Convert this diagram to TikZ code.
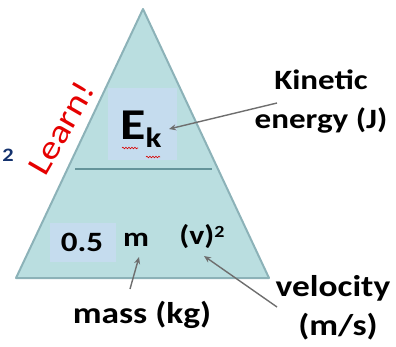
\documentclass[tikz,border=0pt]{standalone}
\usepackage{fontspec}
\setmainfont{Carlito}
\newfontfamily\calfnt[FakeStretch=1.18]{Carlito}
\usetikzlibrary{arrows.meta,decorations.pathmorphing}
\definecolor{tri}{RGB}{186,222,224}
\definecolor{triedge}{RGB}{140,178,184}
\definecolor{divline}{RGB}{100,148,154}
\definecolor{hbox}{RGB}{197,220,238}
\definecolor{arr}{RGB}{110,110,110}
\definecolor{nav}{RGB}{20,50,110}
\tikzset{
  lbl/.style={inner sep=0pt, align=center},
  ptr/.style={draw=arr, line width=1.4pt, -{Stealth[length=7pt,width=6pt]}},
  squig/.style={draw=red!85!black, line width=0.6pt, decorate, decoration={snake, amplitude=0.8pt, segment length=3pt}}
}
\begin{document}
\begin{tikzpicture}[x=1pt,y=-1pt]
\useasboundingbox (0,0) rectangle (396,346);
% triangle
\coordinate (apex) at (143,9);
\coordinate (bl) at (16,278);
\coordinate (br) at (269,278);
\fill[tri] (apex) -- (br) -- (bl) -- cycle;
% highlight boxes
\fill[hbox] (108,88) rectangle (177,160);
\fill[hbox] (50,223) rectangle (116,262);
\draw[triedge, line width=2pt, line join=round] (apex) -- (br) -- (bl) -- cycle;
% divider
\coordinate (dl) at (75,169);
\coordinate (dr) at (212,169);
\draw[divline, line width=2.2pt] (dl) -- (dr);
% formula text
\node[lbl, font=\calfnt\bfseries\fontsize{44}{44}\selectfont] (E) at (141,129) {E\raisebox{-8pt}{\fontsize{28}{28}\selectfont k}};
\coordinate (sq1a) at (122,148);
\coordinate (sq1b) at (138,148);
\coordinate (sq2a) at (146,157);
\coordinate (sq2b) at (160,157);
\draw[squig] (sq1a) -- (sq1b);
\draw[squig] (sq2a) -- (sq2b);
\node[lbl, font=\calfnt\bfseries\fontsize{28}{28}\selectfont] (half) at (82,242) {0.5};
\node[lbl, font=\calfnt\bfseries\fontsize{27}{27}\selectfont] (m) at (136,240) {m};
\node[lbl, font=\calfnt\bfseries\fontsize{27}{27}\selectfont] (v) at (202,237) {(v)\raisebox{7pt}{\fontsize{17}{17}\selectfont 2}};
% labels
\node[lbl, font=\calfnt\bfseries\fontsize{28}{28}\selectfont] (kin) at (321,80) {Kinetic};
\node[lbl, font=\calfnt\bfseries\fontsize{28}{28}\selectfont] (en) at (321,120) {energy (J)};
\node[lbl, font=\calfnt\bfseries\fontsize{30}{30}\selectfont] (mass) at (142,315) {mass (kg)};
\node[lbl, font=\calfnt\bfseries\fontsize{30}{30}\selectfont] (vel) at (333,288) {velocity};
\node[lbl, font=\calfnt\bfseries\fontsize{30}{30}\selectfont] (ms) at (338,327) {(m/s)};
% arrows
\coordinate (k0) at (277,103);
\coordinate (k1) at (169,129);
\draw[ptr] (k0) -- (k1);
\coordinate (m0) at (130,289);
\coordinate (m1) at (139,257);
\draw[ptr] (m0) -- (m1);
\coordinate (v0) at (277,307);
\coordinate (v1) at (204,256);
\draw[ptr] (v0) -- (v1);
% Learn!
\node[inner sep=0pt, text=red!90!black, rotate=60, font=\calfnt\fontsize{33}{33}\selectfont] (learn) at (61,128) {Learn!};
\node[inner sep=0pt, text=nav, font=\calfnt\bfseries\fontsize{19}{19}\selectfont] (two) at (8,155) {2};
\end{tikzpicture}
\end{document}
